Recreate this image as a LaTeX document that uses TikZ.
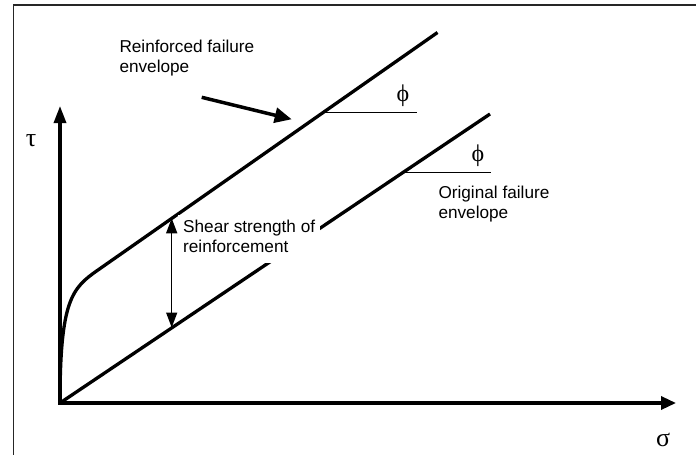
\documentclass[tikz,border=0pt]{standalone}
\usepackage{fontspec}
\setmainfont{Liberation Sans}
\newfontfamily\greekfont{Liberation Serif}
\usetikzlibrary{arrows.meta}
\begin{document}
\begin{tikzpicture}[x=1pt,y=-1pt,
  envelope/.style={line width=3.3pt, line join=round},
  axisline/.style={line width=3.3pt, line join=miter,
    {Triangle[length=17pt,width=12pt]}-{Triangle[length=15pt,width=13pt]}},
  refline/.style={line width=1.5pt},
  txt/.style={font=\fontsize{17.2}{20}\selectfont, align=left, inner sep=0pt, anchor=base west},
  sym/.style={font=\greekfont\fontsize{24}{24}\selectfont, inner sep=0pt},
  axsym/.style={font=\greekfont\fontsize{26}{26}\selectfont, inner sep=0pt},
]
\useasboundingbox (0,0) rectangle (696,455);
\clip (0,0) rectangle (696,455);
% frame
\draw[line width=1.5pt, draw=black!85] (13.3,470) -- (13.3,5) -- (710,5);

% key points
\coordinate (O) at (60,403);
\coordinate (ytip) at (60,106);
\coordinate (xtip) at (676,403);
\coordinate (knee) at (98,270);
\coordinate (rend) at (437.5,32.5);
\coordinate (oend) at (490,114);

% axes
\draw[axisline] (ytip) -- (O) -- (xtip);

% failure envelopes
\draw[envelope] (O) .. controls (60,300) and (72,288) .. (knee) -- (rend);
\draw[envelope] (O) -- (oend);

% friction angle marks
\coordinate (p1a) at (322.6,112.7);
\coordinate (p1b) at (416.7,112.7);
\coordinate (p2a) at (403,172.3);
\coordinate (p2b) at (491,172.3);
\draw[refline] (p1a) -- (p1b);
\draw[refline] (p2a) -- (p2b);
\node[sym] (phi1) at (403,96) {ϕ};
\node[sym] (phi2) at (478,155.5) {ϕ};

% axis symbols
\node[axsym] (tau) at (31,141) {τ};
\node[axsym] (sigma) at (663,440) {σ};

% labels
\node[txt] (reinf) at (119.3,72) {Reinforced failure\\envelope};
\node[txt] (orig) at (438.3,218) {Original failure\\envelope};
\node[txt, fill=white, inner sep=5pt] (shear) at (178,252) {Shear strength of\\reinforcement\strut};

% pointer to the reinforced envelope
\coordinate (ptrA) at (201.7,97.3);
\coordinate (ptrB) at (291.7,119.3);
\draw[line width=3.5pt, -{Triangle[length=17pt,width=15pt]}] (ptrA) -- (ptrB);

% shear strength of reinforcement
\coordinate (sTop) at (171.7,218.3);
\coordinate (sBot) at (171.7,327.5);
\draw[line width=1.5pt, {Triangle[length=15pt,width=11pt]}-{Triangle[length=15pt,width=11pt]}] (sTop) -- (sBot);
\end{tikzpicture}
\end{document}
